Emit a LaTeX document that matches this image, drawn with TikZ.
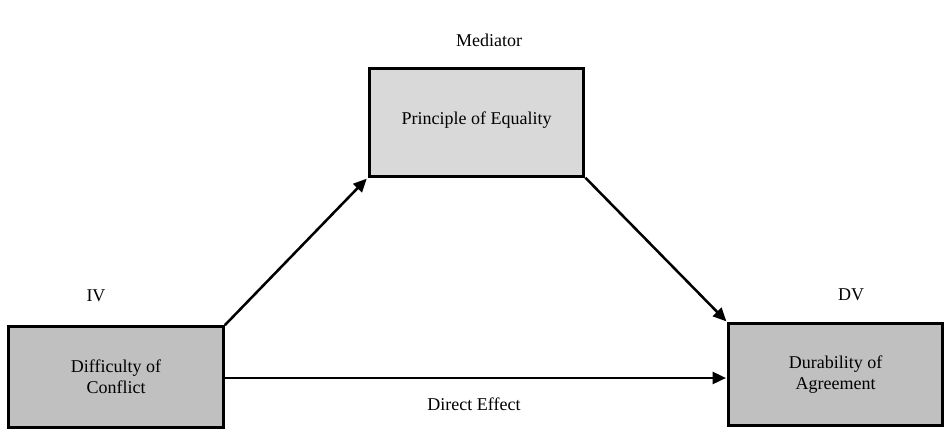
\documentclass[tikz,border=0pt]{standalone}
\usepackage{fontspec}
\setmainfont{Liberation Serif}
\usetikzlibrary{arrows.meta}
\begin{document}
\begin{tikzpicture}[x=0.75pt,y=-0.75pt,
  box/.style={draw=black,line width=2.3pt,rectangle,inner sep=0pt,align=center,font=\fontsize{13.5}{15.5}\selectfont},
  lbl/.style={font=\fontsize{13.5}{15.5}\selectfont,inner sep=0pt},
  conn/.style={line width=1.9pt,-{Triangle[length=10pt,width=9pt]},shorten >=1pt}]
\useasboundingbox (0,0) rectangle (944,435);
\node[box,fill={rgb,255:red,217;green,217;blue,217},minimum width=161pt,minimum height=80.5pt] (med) at (476.5,122.5) {\raisebox{6pt}{Principle of Equality}};
\node[box,fill={rgb,255:red,192;green,192;blue,192},minimum width=161pt,minimum height=75.5pt] (iv) at (116,377) {Difficulty of\\Conflict};
\node[box,fill={rgb,255:red,192;green,192;blue,192},minimum width=160pt,minimum height=76pt] (dv) at (835.5,374.5) {Durability of\\Agreement};
\node[lbl] (medl) at (489,40) {Mediator};
\node[lbl] (ivl) at (96,296) {IV};
\node[lbl] (dvl) at (851,295) {DV};
\node[lbl] (de) at (474,404) {Direct Effect};
\draw[conn] (iv.north east) -- (med.south west);
\draw[conn] (med.south east) -- (dv.north west);
\draw[conn] (iv.east |- 0,378) -- (dv.west |- 0,378);
\end{tikzpicture}
\end{document}
